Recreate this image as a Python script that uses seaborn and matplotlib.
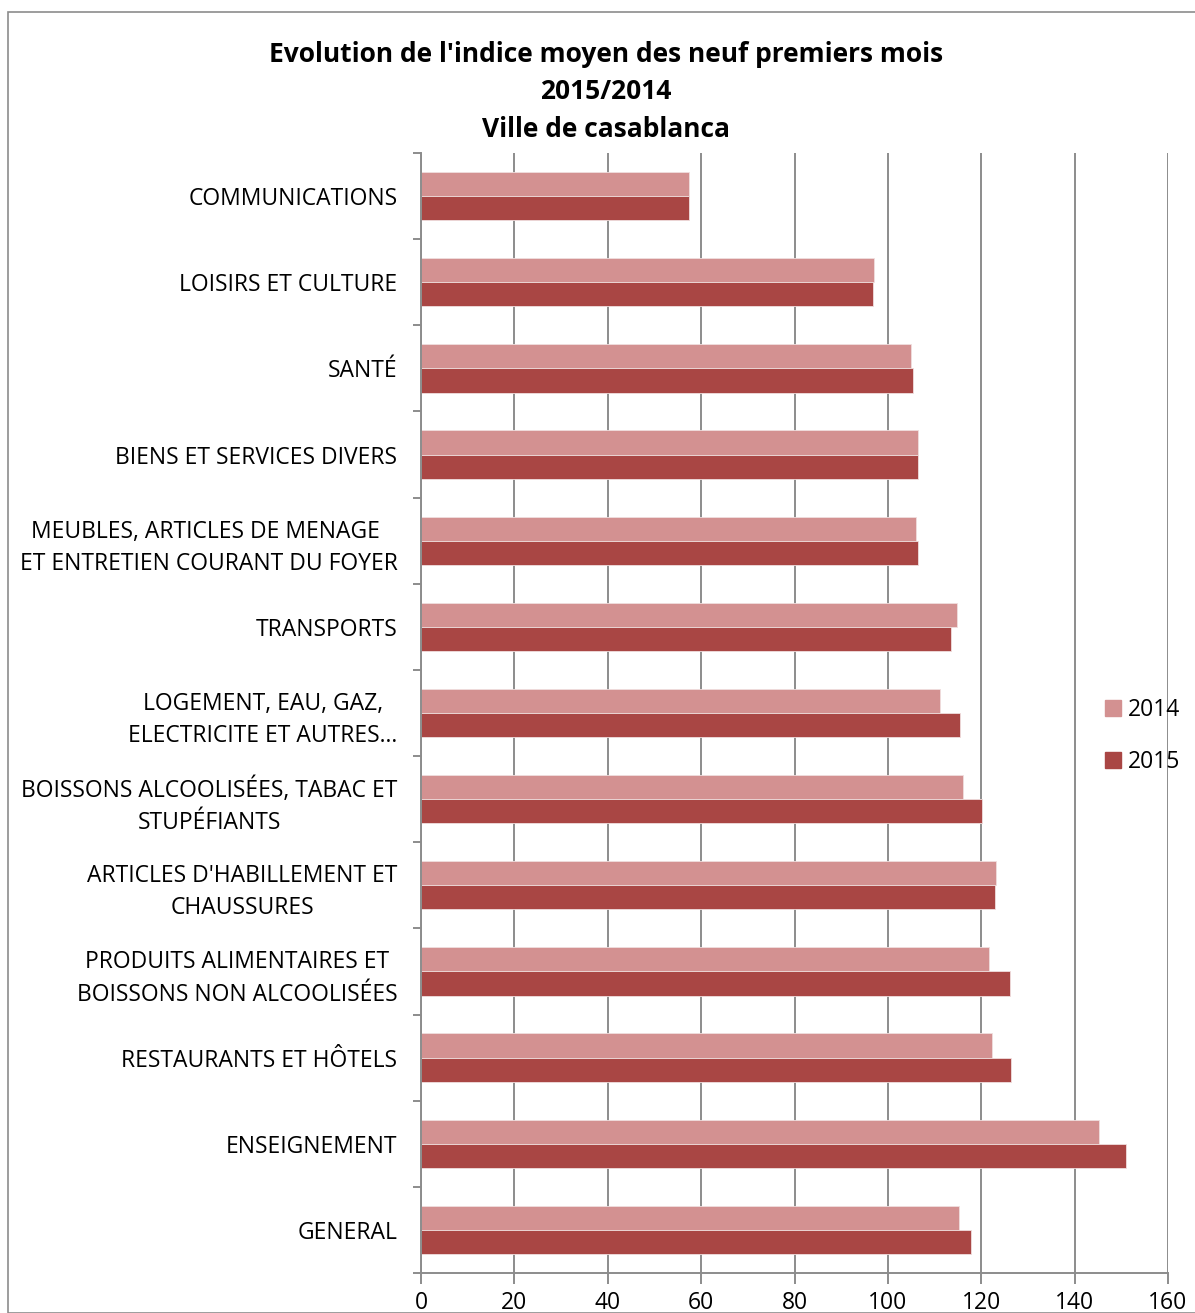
import pandas as pd
import seaborn as sns
import matplotlib.pyplot as plt
from matplotlib.patches import Rectangle
from matplotlib.ticker import FixedLocator

categories = [
    "COMMUNICATIONS",
    "LOISIRS ET CULTURE",
    "SANTÉ",
    "BIENS ET SERVICES DIVERS",
    "MEUBLES, ARTICLES DE MENAGE \nET ENTRETIEN COURANT DU FOYER",
    "TRANSPORTS",
    "LOGEMENT, EAU, GAZ,\nELECTRICITE ET AUTRES…",
    "BOISSONS ALCOOLISÉES, TABAC ET\nSTUPÉFIANTS",
    "ARTICLES D'HABILLEMENT ET\nCHAUSSURES",
    "PRODUITS ALIMENTAIRES ET\nBOISSONS NON ALCOOLISÉES",
    "RESTAURANTS ET HÔTELS",
    "ENSEIGNEMENT",
    "GENERAL",
]
values_2014 = [57.4, 97.0, 105.0, 106.4, 106.0, 114.8, 111.2, 116.1, 123.2, 121.7, 122.3, 145.2, 115.2]
values_2015 = [57.4, 96.8, 105.4, 106.4, 106.4, 113.5, 115.4, 120.2, 122.9, 126.2, 126.4, 151.0, 117.8]
years = ["2014", "2015"]
colors = ["#D39191", "#A94644"]

df = pd.DataFrame({
    "cat": categories * 2,
    "year": [years[0]] * len(categories) + [years[1]] * len(categories),
    "val": values_2014 + values_2015,
})

sns.set_style("white")
plt.rcParams["font.family"] = ["Open Sans", "DejaVu Sans"]
plt.rcParams["text.color"] = "black"
plt.rcParams["xtick.color"] = "black"
plt.rcParams["ytick.color"] = "black"

fig = plt.figure(figsize=(11.95, 13.13), dpi=100)
ax = fig.add_axes([421 / 1195, 1 - 1273 / 1313, (1168 - 421) / 1195, (1273 - 153) / 1313])

sns.barplot(data=df, y="cat", x="val", hue="year", order=categories,
            palette=colors, saturation=1, width=0.56, orient="h", ax=ax, legend=False,
            edgecolor="#f0dede", linewidth=0.6)

ax.set_xlim(0, 160)
ax.set_xticks(range(0, 161, 20))
ax.set_ylim(len(categories) - 0.5, -0.5)
ax.grid(axis="x", color="#8c8c8c", linewidth=1.4)
ax.set_axisbelow(True)
ax.set_xlabel("")
ax.set_ylabel("")

for s in ["top", "right"]:
    ax.spines[s].set_visible(False)
for s in ["left", "bottom"]:
    ax.spines[s].set_color("#8c8c8c")
    ax.spines[s].set_linewidth(1.4)

ax.tick_params(axis="y", which="major", length=0, pad=17, labelsize=16.5, labelcolor="black")
for lab in ax.get_yticklabels():
    lab.set_multialignment("center")
    lab.set_linespacing(1.45)
ax.yaxis.set_minor_locator(FixedLocator([i - 0.5 for i in range(len(categories) + 1)]))
ax.tick_params(axis="y", which="minor", length=6, width=1.4, color="#8c8c8c", left=True)
ax.tick_params(axis="x", length=8, width=1.4, color="#8c8c8c", direction="out",
               labelsize=16.5, pad=5, bottom=True, labelcolor="black")

fig.text(0.507, 0.930, "Evolution de l'indice moyen des neuf premiers mois\n2015/2014\nVille de casablanca",
         ha="center", va="center", fontsize=19, fontweight="bold", linespacing=1.5, color="black")

handles = [Rectangle((0, 0), 1, 1, color=c) for c in colors]
fig.legend(handles, years, loc="center left", bbox_to_anchor=(1084 / 1195, 1 - 736 / 1313),
           frameon=False, fontsize=16.5, handlelength=0.7, handleheight=0.7,
           handletextpad=0.3, labelspacing=1.2)

fig.patches.append(Rectangle((8 / 1195, 0), 1.5, 1 - 12 / 1313, transform=fig.transFigure,
                             fill=False, edgecolor="#8c8c8c", linewidth=1.2))

fig.savefig("out.png", dpi=100)
